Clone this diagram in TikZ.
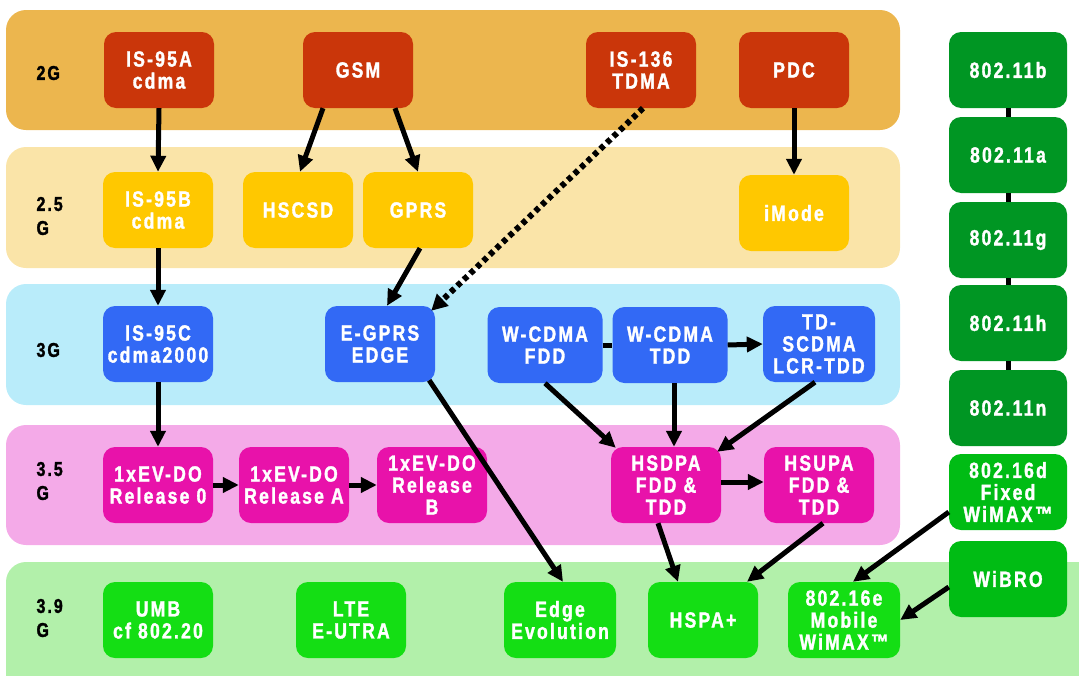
\documentclass[tikz,border=0pt]{standalone}
\usepackage{fontspec}
\setmainfont{Liberation Sans}
\newfontfamily\techfont[FakeStretch=0.8,LetterSpace=10,FakeBold=1.5]{Liberation Sans}
\usetikzlibrary{arrows.meta,calc}

% generation bands
\definecolor{bandTwo}{RGB}{236,182,78}
\definecolor{bandTwoHalf}{RGB}{250,228,168}
\definecolor{bandThree}{RGB}{185,236,250}
\definecolor{bandThreeHalf}{RGB}{244,170,232}
\definecolor{bandThreeNine}{RGB}{178,240,170}
% technology boxes
\definecolor{techRed}{RGB}{202,54,10}
\definecolor{techYellow}{RGB}{255,200,0}
\definecolor{techBlue}{RGB}{50,105,245}
\definecolor{techMagenta}{RGB}{232,18,170}
\definecolor{techGreen}{RGB}{20,222,20}
\definecolor{wifiGreen}{RGB}{0,150,35}
\definecolor{wimaxGreen}{RGB}{0,188,20}

\begin{document}
\begin{tikzpicture}[x=1pt,y=-1pt,
  band/.style={rounded corners=20pt},
  tech/.style={rounded corners=12pt, minimum width=110pt, minimum height=76pt,
    inner sep=0pt, text=white, align=center,
    font=\techfont\bfseries\fontsize{22}{22}\selectfont},
  wifi/.style={tech, minimum width=118pt},
  gen/.style={anchor=west, align=left, text=black,
    font=\techfont\bfseries\fontsize{20}{24}\selectfont},
  arr/.style={line width=5pt, -{Triangle[length=16pt,width=15pt]}},
  dotarr/.style={line width=6pt, dash pattern=on 5pt off 4pt,
    -{Triangle[length=16pt,width=16pt]}},
  link/.style={line width=5pt}]

\useasboundingbox (0,0) rectangle (1079,675);
\clip (0,0) rectangle (1079,675);

% bands
\fill[bandTwo, band] (6,10) rectangle (900,130);
\fill[bandTwoHalf, band] (6,147) rectangle (900,268);
\fill[bandThree, band] (6,284) rectangle (900,405);
\fill[bandThreeHalf, band] (6,425) rectangle (900,545);
\fill[bandThreeNine, band] (6,562) rectangle (1110,710);

% generation labels
\node[gen] (g2)  at (33,73)  {2G};
\node[gen] (g25) at (33,216) {2.5\\G};
\node[gen] (g3)  at (33,350) {3G};
\node[gen] (g35) at (33,481) {3.5\\G};
\node[gen] (g39) at (33,618) {3.9\\G};

% 2G
\node[tech, fill=techRed] (is95a) at (159,70) {IS-95A\\cdma};
\node[tech, fill=techRed] (gsm) at (358,70) {GSM};
\node[tech, fill=techRed] (is136) at (641,70) {IS-136\\TDMA};
\node[tech, fill=techRed] (pdc) at (794,70) {PDC};
% 2.5G
\node[tech, fill=techYellow] (is95b) at (158,210) {IS-95B\\cdma};
\node[tech, fill=techYellow] (hscsd) at (298,210) {HSCSD};
\node[tech, fill=techYellow] (gprs) at (418,210) {GPRS};
\node[tech, fill=techYellow] (imode) at (794,213) {iMode};
% 3G
\node[tech, fill=techBlue] (is95c) at (158,344) {IS-95C\\cdma2000};
\node[tech, fill=techBlue] (egprs) at (380,344) {E-GPRS\\EDGE};
\node[tech, fill=techBlue, minimum width=115pt] (wfdd) at (545,345) {W-CDMA\\FDD};
\node[tech, fill=techBlue, minimum width=115pt] (wtdd) at (670,345) {W-CDMA\\TDD};
\node[tech, fill=techBlue, minimum width=112pt] (tds) at (819,344) {TD-\\SCDMA\\LCR-TDD};
% 3.5G
\node[tech, fill=techMagenta] (ev0) at (158,485) {1xEV-DO\\Release 0};
\node[tech, fill=techMagenta] (eva) at (294,485) {1xEV-DO\\Release A};
\node[tech, fill=techMagenta] (evb) at (432,485) {1xEV-DO\\Release\\B};
\node[tech, fill=techMagenta] (hsdpa) at (666,485) {HSDPA\\FDD \&\\TDD};
\node[tech, fill=techMagenta] (hsupa) at (819,485) {HSUPA\\FDD \&\\TDD};
% 3.9G
\node[tech, fill=techGreen] (umb) at (158,620) {UMB\\cf 802.20};
\node[tech, fill=techGreen] (lte) at (351,620) {LTE\\E-UTRA};
\node[tech, fill=techGreen, minimum width=112pt] (edgeev) at (560,620) {Edge\\Evolution};
\node[tech, fill=techGreen] (hspa) at (703,620) {HSPA+};
\node[tech, fill=techGreen, minimum width=112pt] (w16e) at (844,620) {802.16e\\Mobile\\WiMAX™};
% wireless LAN / WiMAX column
\node[wifi, fill=wifiGreen] (w11b) at (1008,70) {802.11b};
\node[wifi, fill=wifiGreen] (w11a) at (1008,155) {802.11a};
\node[wifi, fill=wifiGreen] (w11g) at (1008,240) {802.11g};
\node[wifi, fill=wifiGreen] (w11h) at (1008,323) {802.11h};
\node[wifi, fill=wifiGreen] (w11n) at (1008,408) {802.11n};
\node[wifi, fill=wimaxGreen] (w16d) at (1008,492) {802.16d\\Fixed\\WiMAX™};
\node[wifi, fill=wimaxGreen] (wibro) at (1008,579) {WiBRO};

% links in the 802.11 column
\draw[link] (w11b) -- (w11a);
\draw[link] (w11a) -- (w11g);
\draw[link] (w11g) -- (w11h);
\draw[link] (w11h) -- (w11n);

% evolution arrows
\draw[arr] (is95a.south) -- (is95b.north);
\draw[arr] ([xshift=-35pt]gsm.south) -- ([xshift=2pt]hscsd.north);
\draw[arr] ([xshift=37pt]gsm.south) -- (gprs.north);
\draw[dotarr] ([xshift=2pt]is136.south) -- ($(egprs.north east)+(-4,5)$);
\draw[arr] (pdc.south) -- (imode.north);
\draw[arr] (is95b.south) -- (is95c.north);
\draw[arr] ([xshift=2pt]gprs.south) -- ([xshift=7pt]egprs.north);
\draw[arr] (is95c.south) -- (ev0.north);
\draw[arr] (ev0.east) -- (eva.west);
\draw[arr] (eva.east) -- (evb.west);
\draw[arr] ($(egprs.south east)+(-6,-2)$) -- ([xshift=3pt]edgeev.north);
\draw[link] (wfdd.east) -- (wtdd.west);
\draw[arr] (wtdd.east) -- (tds.west);
\draw[arr] (wfdd.south) -- ($(hsdpa.north west)+(5,1)$);
\draw[arr] ([xshift=4pt]wtdd.south) -- ([xshift=4pt]wtdd.south |- hsdpa.north);
\draw[arr] ([xshift=-4pt]tds.south) -- ($(hsdpa.north east)+(-4,5)$);
\draw[arr] ([yshift=3pt]hsdpa.east) -- ([yshift=3pt]hsupa.west);
\draw[arr] ([xshift=-8pt]hsdpa.south) -- ([xshift=-25pt]hspa.north);
\draw[arr] ([xshift=4pt]hsupa.south) -- ([xshift=44pt]hspa.north);
\draw[arr] ($(w16d.west)+(0,20)$) -- ([xshift=9pt]w16e.north);
\draw[arr] ($(wibro.west)+(0,8)$) -- (w16e.east);

\end{tikzpicture}
\end{document}
